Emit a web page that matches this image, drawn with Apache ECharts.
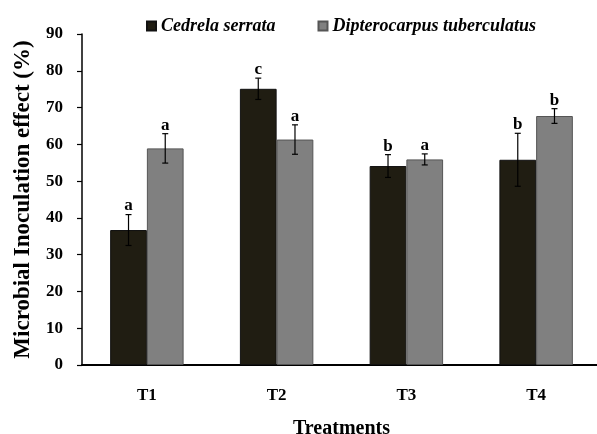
<!DOCTYPE html>
<html>
<head>
<meta charset="utf-8">
<script src="https://cdn.jsdelivr.net/npm/echarts@6/dist/echarts.min.js"></script>
<style>html,body{margin:0;padding:0;background:#fff}#c{width:597px;height:434px}</style>
</head>
<body>
<div id="c"></div>
<script>
const categories = ['T1', 'T2', 'T3', 'T4'];
const seriesNames = ['Cedrela serrata', 'Dipterocarpus tuberculatus'];
const cedrela = [36.7, 75.1, 54.1, 55.8];
const cedrelaErr = [4.2, 2.9, 3.1, 7.2];
const cedrelaLetters = ['a', 'c', 'b', 'b'];
const dipterocarpus = [58.9, 61.3, 55.9, 67.7];
const dipterocarpusErr = [4.0, 4.0, 1.5, 2.0];
const dipterocarpusLetters = ['a', 'a', 'a', 'b'];
const yTicks = [0, 10, 20, 30, 40, 50, 60, 70, 80, 90];

const FONT = "'Liberation Serif', 'DejaVu Serif', serif";
const GAP = 0.434;

function errSeries(vals, errs, letters, side) {
  const data = vals.map((v, i) => [i, v, errs[i], letters[i]]);
  return {
    type: 'custom',
    name: 'err' + side,
    z: 5,
    silent: true,
    data: data,
    renderItem: function (params, api) {
      const idx = api.value(0);
      const v = api.value(1);
      const e = api.value(2);
      const letter = data[params.dataIndex][3];
      const band = api.size([1, 0])[0];
      const barW = band * (1 - GAP) / 2;
      const c = api.coord([idx, v]);
      const x = c[0] + side * barW / 2;
      const top = api.coord([idx, v + e])[1];
      const bot = api.coord([idx, v - e])[1];
      const cap = 3;
      const st = { stroke: '#000', lineWidth: 1.2 };
      return {
        type: 'group',
        children: [
          { type: 'line', shape: { x1: x, y1: top, x2: x, y2: bot }, style: st },
          { type: 'line', shape: { x1: x - cap, y1: top, x2: x + cap, y2: top }, style: st },
          { type: 'line', shape: { x1: x - cap, y1: bot, x2: x + cap, y2: bot }, style: st },
          { type: 'text', x: x, y: top, style: { text: letter, fill: '#000', font: 'bold 17px ' + FONT, align: 'center', verticalAlign: 'bottom' } }
        ]
      };
    }
  };
}

const chart = echarts.init(document.getElementById('c'), null, { renderer: 'canvas' });
chart.setOption({
  animation: false,
  backgroundColor: '#fff',
  grid: { left: 82, top: 34, width: 519, height: 331, containLabel: false, outerBoundsMode: 'none' },
  legend: {
    left: 141, top: 12,
    itemWidth: 9, itemHeight: 9, itemGap: 42,
    icon: 'rect',
    data: seriesNames,
    textStyle: { fontFamily: FONT, fontWeight: 'bold', fontStyle: 'italic', fontSize: 18, color: '#000' }
  },
  xAxis: {
    type: 'category',
    data: categories,
    name: 'Treatments',
    nameLocation: 'middle',
    nameGap: 54,
    nameTextStyle: { fontFamily: FONT, fontWeight: 'bold', fontSize: 20, color: '#000' },
    axisLine: { lineStyle: { color: '#000', width: 2 } },
    axisTick: { show: false },
    axisLabel: { margin: 22, fontFamily: FONT, fontWeight: 'bold', fontSize: 17, color: '#000' }
  },
  yAxis: {
    type: 'value',
    min: 0, max: 90, interval: 10,
    name: 'Microbial Inoculation effect (%)',
    nameLocation: 'middle',
    nameGap: 47,
    nameTextStyle: { fontFamily: FONT, fontWeight: 'bold', fontSize: 23, color: '#000' },
    axisLine: { show: true, lineStyle: { color: '#000', width: 1.5 } },
    axisTick: { show: true, length: 5, lineStyle: { color: '#000', width: 1.2 } },
    axisLabel: { margin: 19, fontFamily: FONT, fontWeight: 'bold', fontSize: 17, color: '#000',
      formatter: v => yTicks.includes(v) ? String(v) : '' },
    splitLine: { show: false }
  },
  series: [
    { name: seriesNames[0], type: 'bar', data: cedrela, barGap: '0%', barCategoryGap: (GAP * 100) + '%',
      itemStyle: { color: '#201d12', borderColor: '#111', borderWidth: 1 } },
    { name: seriesNames[1], type: 'bar', data: dipterocarpus, barGap: '0%', barCategoryGap: (GAP * 100) + '%',
      itemStyle: { color: '#808080', borderColor: '#555', borderWidth: 1 } },
    errSeries(cedrela, cedrelaErr, cedrelaLetters, -1),
    errSeries(dipterocarpus, dipterocarpusErr, dipterocarpusLetters, 1)
  ]
});
</script>
</body>
</html>
